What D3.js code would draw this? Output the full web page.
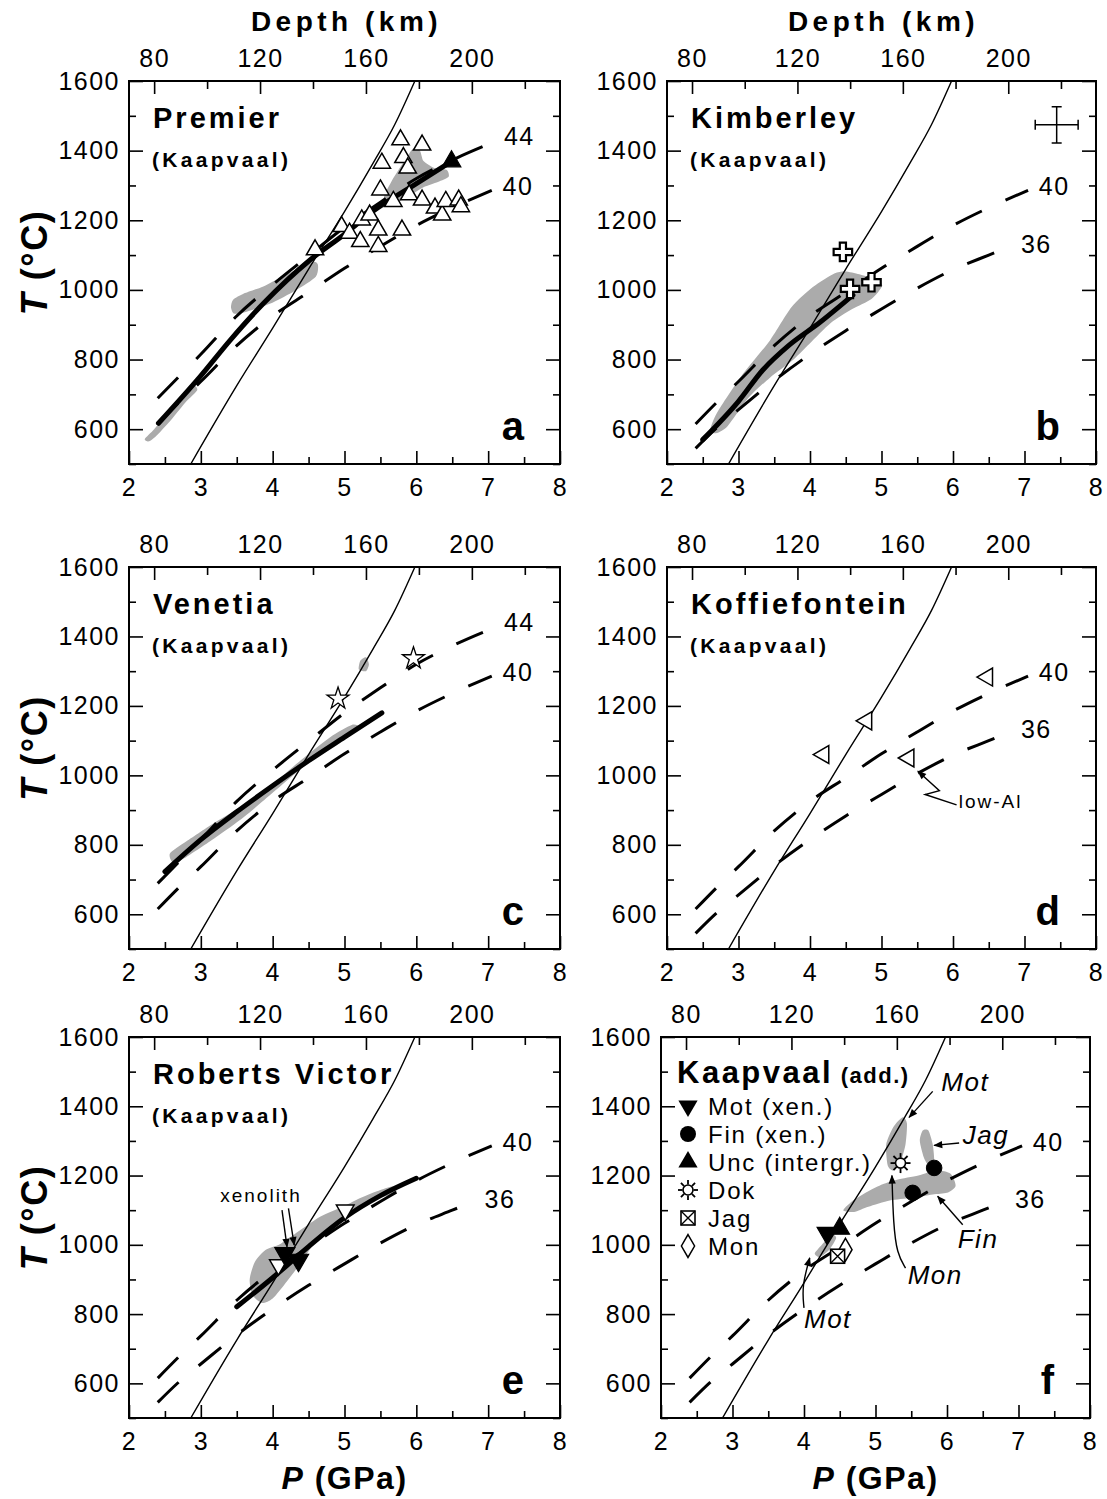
<!DOCTYPE html>
<html><head><meta charset="utf-8">
<script src="https://cdn.jsdelivr.net/npm/d3@7"></script>
<style>body{margin:0;background:#fff}svg{display:block}</style>
</head><body>
<svg id="chart" width="1107" height="1499"></svg>
<script>
// ---------------- data ----------------
const pressureTicks = [2,3,4,5,6,7,8];
const pressureMinor = [2.5,3.5,4.5,5.5,6.5,7.5];
const tempTicks = [600,800,1000,1200,1400,1600];
const tempMinor = [500,700,900,1100,1300,1500];
const depthTicks = [80,120,160,200];
const depthMinor = [100,140,180,220];

const panelLetters = ["a","b","c","d","e","f"];
const panelNames = ["Premier","Kimberley","Venetia","Koffiefontein","Roberts Victor","Kaapvaal"];
const panelRegion = ["(Kaapvaal)","(Kaapvaal)","(Kaapvaal)","(Kaapvaal)","(Kaapvaal)","(add.)"];
const panelGeotherms = [["44","40"],["40","36"],["44","40"],["40","36"],["40","36"],["40","36"]];

// thin solid reference curve (P GPa, T °C)
const solidCurve = [[2.86,500],[3.5,725],[4.0,890],[4.5,1060],[5.0,1225],[5.4,1365],[5.7,1475],[5.98,1600]];
// conductive geotherms (mW/m2)
const geotherm44 = [[2.4,689],[2.7,752],[3.0,815],[3.5,925],[4.0,1015],[4.5,1098],[5.0,1180],[5.5,1252],[6.0,1320],[6.5,1373],[7.08,1425]];
const geotherm40 = [[2.4,615],[2.7,678],[3.0,737],[3.5,840],[4.0,925],[4.5,993],[5.0,1062],[5.5,1125],[6.0,1185],[6.5,1236],[7.05,1286]];
const geotherm36 = [[2.4,545],[2.7,605],[3.0,656],[3.5,740],[4.0,815],[4.5,883],[5.0,945],[5.5,1005],[6.0,1058],[6.5,1100],[6.78,1123]];

// (a) Premier
const premierOpen = [[4.59,1115],[4.96,1182],[5.07,1163],[5.22,1139],[5.24,1201],[5.35,1215],[5.47,1172],[5.47,1125],[5.50,1287],[5.52,1364],[5.68,1254],[5.78,1431],[5.80,1172],[5.82,1380],[5.88,1350],[5.90,1273],[6.08,1416],[6.08,1258],[6.26,1235],[6.36,1215],[6.41,1254],[6.59,1258],[6.62,1239]];
const premierFilled = [[6.49,1369]];
const premierFit = [[2.41,617],[2.99,751],[3.41,856],[3.87,961],[4.52,1086],[5.0,1160],[5.37,1222],[6.0,1305],[6.49,1369]];
const premierBlob1 = [[2.22,572],[2.35,600],[2.55,650],[2.75,700],[2.9,725],[2.95,712],[2.8,680],[2.6,630],[2.4,585],[2.28,565]];
const premierBlob2 = [[3.42,950],[3.45,972],[3.6,990],[3.87,1010],[4.2,1045],[4.55,1080],[4.63,1072],[4.6,1038],[4.33,1000],[3.96,960],[3.6,935],[3.46,932]];
const premierBlob3 = [[5.55,1265],[5.65,1310],[5.8,1360],[5.95,1405],[6.05,1400],[6.1,1370],[6.25,1350],[6.42,1345],[6.45,1325],[6.3,1310],[6.1,1295],[5.9,1270],[5.7,1250]];

// (b) Kimberley
const kimberleyCross = [[4.46,1109],[4.56,1003],[4.86,1022]];
const kimberleyFit = [[2.5,570],[3.0,680],[3.34,770],[3.7,840],[4.14,907],[4.6,985]];
const kimberleyBlob = [[2.6,594],[2.7,647],[3.04,753],[3.44,855],[3.74,950],[4.04,1008],[4.34,1047],[4.49,1053],[4.69,1045],[4.89,1032],[5.01,1013],[4.86,974],[4.59,945],[4.29,905],[3.99,845],[3.74,795],[3.44,748],[3.14,690],[2.85,609],[2.7,589]];
const errorBarCenter = [[7.45,1474]];
const errorBarSize = [0.3, 52];

// (c) Venetia
const venetiaStars = [[4.91,1221],[5.96,1337]];
const venetiaFit = [[2.5,723],[3.0,815],[3.5,895],[4.0,970],[4.5,1042],[5.0,1110],[5.52,1180]];
const venetiaBlob1 = [[2.57,775],[2.8,810],[3.2,865],[3.6,915],[4.0,975],[4.4,1045],[4.8,1110],[5.1,1145],[5.2,1140],[5.1,1120],[4.8,1085],[4.4,1020],[4.0,950],[3.6,880],[3.2,820],[2.8,765],[2.62,748]];
const venetiaBlob2 = [[5.2,1305],[5.22,1330],[5.3,1340],[5.34,1320],[5.3,1300]];

// (d) Koffiefontein
const koffieLeft = [[6.48,1283],[4.79,1157],[4.19,1060],[5.38,1050]];
const lowAlArrow = [[6.05,915],[5.61,945],[5.81,956],[5.51,1012]];

// (e) Roberts Victor
const robertsOpen = [[4.08,942],[5.01,1100]];
const robertsFilled = [[4.17,975],[4.36,956]];
const robertsFit = [[3.5,821],[4.0,905],[4.5,995],[5.0,1078],[5.5,1142],[6.0,1192]];
const robertsBlob = [[3.68,900],[3.75,950],[3.9,985],[4.1,1002],[4.3,1030],[4.66,1081],[5.0,1112],[5.22,1135],[5.5,1158],[5.68,1168],[5.72,1150],[5.5,1135],[5.2,1108],[4.9,1068],[4.6,1010],[4.4,950],[4.2,895],[4.0,845],[3.85,832],[3.72,855]];
const xenolithArrows = [[[4.13,1100],[4.20,994]],[[4.22,1105],[4.30,999]]];

// (f) Kaapvaal additional
const legendLabels = ["Mot (xen.)","Fin (xen.)","Unc (intergr.)","Dok","Jag","Mon"];
const motXen = [[4.32,1034]];
const finXen = [[5.52,1150],[5.82,1222]];
const uncIntergr = [[4.50,1047]];
const dokPts = [[5.35,1236]];
const jagPts = [[4.47,967]];
const monPts = [[4.58,986]];
const fBlobMot = [[5.17,1230],[5.15,1290],[5.25,1340],[5.38,1368],[5.44,1350],[5.42,1290],[5.35,1240],[5.25,1215]];
const fBlobJag = [[5.62,1300],[5.66,1330],[5.74,1330],[5.8,1290],[5.82,1240],[5.76,1225],[5.68,1250]];
const fBlobFin = [[4.55,1100],[4.7,1130],[4.9,1155],[5.1,1175],[5.3,1188],[5.6,1200],[5.85,1215],[6.05,1205],[6.12,1170],[6.0,1150],[5.8,1145],[5.5,1135],[5.2,1128],[4.9,1110],[4.7,1095]];
const fBlobSmall = [[4.15,975],[4.25,1000],[4.38,1030],[4.45,1020],[4.35,985],[4.22,965]];
const fNotes = ["Mot","Jag","Fin","Mon","Mot"];
const fNoteArrows = [
  [[5.80,1443],[5.47,1368]],
  [[6.17,1294],[5.82,1287]],
  [[6.22,1058],[5.87,1140]],
  [[5.42,933],[5.3,975],[5.25,1060],[5.23,1200]],
  [[4.0,818],[3.97,880],[4.08,962]]
];
const fNoteAnchors = [[5.92,1443],[6.22,1290],[6.15,992],[5.45,886],[4.0,761]];

// ---------------- drawing ----------------
const svg = d3.select("#chart");
const SANS = "'Liberation Sans',Arial,Helvetica,sans-serif";
const GRAY = "#ababab";

const defs = svg.append("defs");
defs.append("marker").attr("id","arrow").attr("viewBox","0 0 10 10")
  .attr("refX",9).attr("refY",5).attr("markerWidth",10).attr("markerHeight",9)
  .attr("markerUnits","userSpaceOnUse").attr("orient","auto")
  .append("path").attr("d","M0,1 L10,5 L0,9 z").attr("fill","#000");

const layout = [
  {L:129,R:560,T:81,B:464},
  {L:667,R:1096,T:81,B:464},
  {L:129,R:560,T:567,B:949},
  {L:667,R:1096,T:567,B:949},
  {L:129,R:560,T:1037,B:1418},
  {L:661,R:1090,T:1037,B:1418}
];
const geoMap = {"44":geotherm44,"40":geotherm40,"36":geotherm36};
const geoLabelPos = {"44":[7.22,1441],"40":[7.2,1297],"36":[6.95,1133]};

function styleAxis(sel, size){
  sel.select(".domain").remove();
  sel.selectAll("line").attr("stroke","#000").attr("stroke-width",1.6);
  sel.selectAll("text").attr("font-family",SANS).attr("font-size",size).attr("fill","#000").attr("letter-spacing",1.5);
}

function makePanel(i){
  const box = layout[i];
  const g = svg.append("g");
  const x = d3.scaleLinear().domain([2,8]).range([box.L,box.R]);
  const y = d3.scaleLinear().domain([500,1600]).range([box.B,box.T]);
  const xd = d3.scaleLinear().domain([80,220]).range([x(2.35),x(7.51)]);
  defs.append("clipPath").attr("id","clip"+i).append("rect")
    .attr("x",box.L).attr("y",box.T).attr("width",box.R-box.L).attr("height",box.B-box.T);
  const plot = g.append("g").attr("clip-path",`url(#clip${i})`);
  const line = d3.line().x(d=>x(d[0])).y(d=>y(d[1]));
  return {i,g,plot,x,y,xd,line,box};
}

function drawAxes(p){
  const {g,x,y,xd,box} = p;
  g.append("g").attr("transform",`translate(0,${box.B})`)
    .call(d3.axisBottom(x).tickValues(pressureTicks).tickSize(-13).tickPadding(14).tickFormat(d3.format("d")))
    .call(s=>styleAxis(s,25));
  g.append("g").attr("transform",`translate(0,${box.B})`)
    .call(d3.axisBottom(x).tickValues(pressureMinor).tickSize(-7).tickFormat(""))
    .call(s=>styleAxis(s,25));
  g.append("g").attr("transform",`translate(${box.L},0)`)
    .call(d3.axisLeft(y).tickValues(tempTicks).tickSize(-14).tickPadding(9).tickFormat(d3.format("d")))
    .call(s=>styleAxis(s,25));
  g.append("g").attr("transform",`translate(${box.L},0)`)
    .call(d3.axisLeft(y).tickValues(tempMinor).tickSize(-7).tickFormat(""))
    .call(s=>styleAxis(s,25));
  g.append("g").attr("transform",`translate(${box.R},0)`)
    .call(d3.axisRight(y).tickValues(tempTicks).tickSize(-14).tickFormat(""))
    .call(s=>styleAxis(s,25));
  g.append("g").attr("transform",`translate(${box.R},0)`)
    .call(d3.axisRight(y).tickValues(tempMinor).tickSize(-7).tickFormat(""))
    .call(s=>styleAxis(s,25));
  g.append("g").attr("transform",`translate(0,${box.T})`)
    .call(d3.axisTop(xd).tickValues(depthTicks).tickSize(-13).tickPadding(14).tickFormat(d3.format("d")))
    .call(s=>styleAxis(s,25));
  g.append("g").attr("transform",`translate(0,${box.T})`)
    .call(d3.axisTop(xd).tickValues(depthMinor).tickSize(-8).tickFormat(""))
    .call(s=>styleAxis(s,25));
  g.append("rect").attr("x",box.L).attr("y",box.T).attr("width",box.R-box.L).attr("height",box.B-box.T)
    .attr("fill","none").attr("stroke","#000").attr("stroke-width",2);
}

function blob(p, pts){
  p.plot.append("path").datum(pts)
    .attr("d", d3.line().x(d=>p.x(d[0])).y(d=>p.y(d[1])).curve(d3.curveCardinalClosed.tension(0.3)))
    .attr("fill",GRAY).attr("stroke","none");
}
function baseLines(p){
  p.plot.append("path").datum(solidCurve).attr("d",p.line.curve(d3.curveMonotoneX))
    .attr("fill","none").attr("stroke","#000").attr("stroke-width",1.4);
  panelGeotherms[p.i].forEach(k=>{
    p.plot.append("path").datum(geoMap[k]).attr("d",p.line.curve(d3.curveMonotoneX))
      .attr("fill","none").attr("stroke","#000").attr("stroke-width",3)
      .attr("stroke-dasharray","29,26");
    const lp = geoLabelPos[k];
    p.g.append("text").attr("x",p.x(lp[0])).attr("y",p.y(lp[1])).attr("dy","0.36em")
      .attr("font-family",SANS).attr("font-size",25).attr("letter-spacing",1.5).text(k);
  });
}
function fitLine(p, pts){
  p.plot.append("path").datum(pts).attr("d",p.line.curve(d3.curveMonotoneX))
    .attr("fill","none").attr("stroke","#000").attr("stroke-width",5).attr("stroke-linecap","round");
}
function symbols(p, pts, type, size, rot, fill, sw){
  p.plot.selectAll(null).data(pts).enter().append("path")
    .attr("d", d3.symbol().type(type).size(size)())
    .attr("transform", d=>`translate(${p.x(d[0])},${p.y(d[1])}) rotate(${rot})`)
    .attr("fill",fill).attr("stroke","#000").attr("stroke-width",sw).attr("stroke-linejoin","miter");
}
function sun(g, cx, cy){
  const s = g.append("g").attr("transform",`translate(${cx},${cy})`);
  d3.range(8).forEach(k=>{
    const a = k*Math.PI/4;
    s.append("line").attr("x1",Math.cos(a)*5.5).attr("y1",Math.sin(a)*5.5)
      .attr("x2",Math.cos(a)*10).attr("y2",Math.sin(a)*10).attr("stroke","#000").attr("stroke-width",1.8);
  });
  s.append("circle").attr("r",5).attr("fill","#fff").attr("stroke","#000").attr("stroke-width",1.6);
}
function boxX(g, cx, cy){
  const h = 7;
  const s = g.append("g").attr("transform",`translate(${cx},${cy})`);
  s.append("rect").attr("x",-h).attr("y",-h).attr("width",2*h).attr("height",2*h).attr("fill","#fff").attr("stroke","#000").attr("stroke-width",1.6);
  s.append("path").attr("d",`M${-h},${-h}L${h},${h}M${h},${-h}L${-h},${h}`).attr("stroke","#000").attr("stroke-width",1.4);
}
function titles(p){
  const {g,box,i} = p;
  const t = g.append("text").attr("x",box.L+24).attr("y",box.T+47)
    .attr("font-family",SANS).attr("font-weight","bold").attr("font-size",29).attr("letter-spacing",3);
  if(i===5){
    t.attr("x",box.L+16).attr("y",box.T+46).attr("font-size",31).attr("letter-spacing",2.5);
    t.append("tspan").text(panelNames[i]);
    t.append("tspan").attr("font-size",22).attr("letter-spacing",1.5).text(" "+panelRegion[i]);
  } else {
    t.text(panelNames[i]);
    g.append("text").attr("x",box.L+23).attr("y",box.T+86)
      .attr("font-family",SANS).attr("font-weight","bold").attr("font-size",21).attr("letter-spacing",3.3)
      .text(panelRegion[i]);
  }
  g.append("text").attr("x",box.R-36).attr("y",box.B-24).attr("text-anchor","end")
    .attr("font-family",SANS).attr("font-weight","bold").attr("font-size",40).text(panelLetters[i]);
}

const panels = layout.map((_,i)=>makePanel(i));

// ---- a
{ const p = panels[0];
  [premierBlob1,premierBlob2,premierBlob3].forEach(b=>blob(p,b));
  baseLines(p); fitLine(p,premierFit);
  symbols(p,premierOpen,d3.symbolTriangle,130,0,"#fff",1.5);
  symbols(p,premierFilled,d3.symbolTriangle,150,0,"#000",1.2);
}
// ---- b
{ const p = panels[1];
  blob(p,kimberleyBlob);
  baseLines(p); fitLine(p,kimberleyFit);
  symbols(p,kimberleyCross,d3.symbolCross,190,0,"#fff",2.2);
  errorBarCenter.forEach(d=>{
    const cx=p.x(d[0]), cy=p.y(d[1]);
    const x0=p.x(d[0]-errorBarSize[0]), x1=p.x(d[0]+errorBarSize[0]);
    const y0=p.y(d[1]-errorBarSize[1]), y1=p.y(d[1]+errorBarSize[1]);
    const path=`M${x0},${cy}H${x1}M${cx},${y0}V${y1}M${x0},${cy-5}V${cy+5}M${x1},${cy-5}V${cy+5}M${cx-5},${y0}H${cx+5}M${cx-5},${y1}H${cx+5}`;
    p.g.append("path").attr("d",path).attr("stroke","#000").attr("stroke-width",1.5).attr("fill","none");
  });
}
// ---- c
{ const p = panels[2];
  [venetiaBlob1,venetiaBlob2].forEach(b=>blob(p,b));
  baseLines(p); fitLine(p,venetiaFit);
  symbols(p,venetiaStars,d3.symbolStar,150,0,"#fff",1.3);
}
// ---- d
{ const p = panels[3];
  baseLines(p);
  symbols(p,koffieLeft,d3.symbolTriangle,140,-90,"#fff",1.5);
  p.g.append("path").datum(lowAlArrow).attr("d",p.line.curve(d3.curveLinear))
    .attr("fill","none").attr("stroke","#000").attr("stroke-width",1.4).attr("marker-end","url(#arrow)");
  p.g.append("text").attr("x",p.x(6.08)).attr("y",p.y(905)).attr("font-family",SANS)
    .attr("font-size",19).attr("letter-spacing",2).text("low-Al");
}
// ---- e
{ const p = panels[4];
  blob(p,robertsBlob);
  baseLines(p); fitLine(p,robertsFit);
  symbols(p,robertsOpen,d3.symbolTriangle,135,180,"#fff",1.5);
  symbols(p,robertsFilled,d3.symbolTriangle,175,180,"#000",1.2);
  xenolithArrows.forEach(a=>{
    p.g.append("path").datum(a).attr("d",p.line.curve(d3.curveLinear))
      .attr("fill","none").attr("stroke","#000").attr("stroke-width",1.4).attr("marker-end","url(#arrow)");
  });
  p.g.append("text").attr("x",p.x(3.27)).attr("y",p.y(1124)).attr("font-family",SANS)
    .attr("font-size",19).attr("letter-spacing",2).text("xenolith");
}
// ---- f
{ const p = panels[5];
  [fBlobMot,fBlobJag,fBlobFin,fBlobSmall].forEach(b=>blob(p,b));
  baseLines(p);
  symbols(p,motXen,d3.symbolTriangle,165,180,"#000",1.2);
  symbols(p,uncIntergr,d3.symbolTriangle,165,0,"#000",1.2);
  symbols(p,finXen,d3.symbolCircle,190,0,"#000",1);
  symbols(p,monPts,d3.symbolDiamond,150,0,"#fff",1.5);
  jagPts.forEach(d=>boxX(p.g,p.x(d[0]),p.y(d[1])));
  dokPts.forEach(d=>sun(p.g,p.x(d[0]),p.y(d[1])));
  fNoteArrows.forEach(a=>{
    p.g.append("path").datum(a).attr("d",p.line.curve(d3.curveBasis))
      .attr("fill","none").attr("stroke","#000").attr("stroke-width",1.4).attr("marker-end","url(#arrow)");
  });
  fNotes.forEach((t,k)=>{
    p.g.append("text").attr("x",p.x(fNoteAnchors[k][0])).attr("y",p.y(fNoteAnchors[k][1]))
      .attr("font-family",SANS).attr("font-style","italic").attr("font-size",26).attr("letter-spacing",1.5).text(t);
  });
  // legend
  const lx = p.box.L+27, tx = p.box.L+47, y0 = p.box.T+69, dy = 28;
  legendLabels.forEach((lab,k)=>{
    const cy = y0 + k*dy;
    const lg = p.g.append("g");
    if(k===0) lg.append("path").attr("d",d3.symbol().type(d3.symbolTriangle).size(160)()).attr("transform",`translate(${lx},${cy}) rotate(180)`).attr("fill","#000");
    if(k===1) lg.append("circle").attr("cx",lx).attr("cy",cy).attr("r",8).attr("fill","#000");
    if(k===2) lg.append("path").attr("d",d3.symbol().type(d3.symbolTriangle).size(160)()).attr("transform",`translate(${lx},${cy})`).attr("fill","#000");
    if(k===3) sun(lg,lx,cy);
    if(k===4) boxX(lg,lx,cy);
    if(k===5) lg.append("path").attr("d",d3.symbol().type(d3.symbolDiamond).size(150)()).attr("transform",`translate(${lx},${cy})`).attr("fill","#fff").attr("stroke","#000").attr("stroke-width",1.5);
    lg.append("text").attr("x",tx).attr("y",cy+9).attr("font-family",SANS).attr("font-size",24)
      .attr("letter-spacing",1.8).text(lab);
  });
}

panels.forEach(p=>{ drawAxes(p); titles(p); });

// axis titles
function depthTitle(cx){
  svg.append("text").attr("x",cx+2).attr("y",31).attr("text-anchor","middle")
    .attr("font-family",SANS).attr("font-weight","bold").attr("font-size",28).attr("letter-spacing",4.5)
    .text("Depth (km)");
}
depthTitle((layout[0].L+layout[0].R)/2);
depthTitle((layout[1].L+layout[1].R)/2);
[0,2,4].forEach(i=>{
  const b = layout[i];
  const t = svg.append("text").attr("transform",`translate(47,${(b.T+b.B)/2 - 10}) rotate(-90)`)
    .attr("text-anchor","middle").attr("font-family",SANS).attr("font-weight","bold").attr("font-size",36).attr("letter-spacing",1.5);
  t.append("tspan").attr("font-style","italic").text("T");
  t.append("tspan").text(" (°C)");
});
[4,5].forEach(i=>{
  const b = layout[i];
  const t = svg.append("text").attr("x",(b.L+b.R)/2).attr("y",1489).attr("text-anchor","middle")
    .attr("font-family",SANS).attr("font-weight","bold").attr("font-size",32).attr("letter-spacing",1.5);
  t.append("tspan").attr("font-style","italic").text("P");
  t.append("tspan").text(" (GPa)");
});
</script>
</body></html>
